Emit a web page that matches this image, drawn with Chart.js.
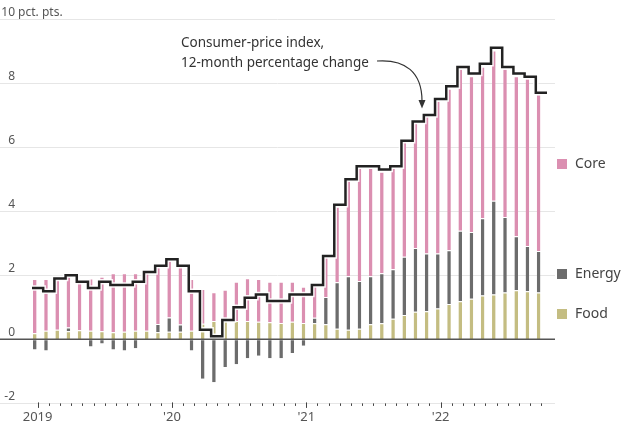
<!DOCTYPE html>
<html>
<head>
<meta charset="utf-8">
<script src="https://cdn.jsdelivr.net/npm/chart.js@4.4.1/dist/chart.umd.min.js"></script>
<style>
html, body { margin: 0; padding: 0; background: #fff; }
#wrap { width: 624px; height: 436px; position: relative; }
</style>
</head>
<body>
<div id="wrap"><canvas id="cpi"></canvas></div>
<script>
// months Jan 2019 .. Oct 2022
const months = [];
for (let y = 2019; y <= 2022; y++) {
    for (let m = 1; m <= 12; m++) {
        if (y === 2022 && m > 10) break;
        months.push(y + '-' + String(m).padStart(2, '0'));
    }
}

// contributions to 12-month CPI change, pct. pts.
const food = [0.19,0.27,0.30,0.25,0.28,0.27,0.25,0.22,0.24,0.27,0.27,0.22,
              0.24,0.24,0.27,0.49,0.57,0.59,0.57,0.57,0.55,0.53,0.51,0.55,
              0.51,0.50,0.47,0.33,0.30,0.33,0.47,0.50,0.64,0.76,0.86,0.88,
              0.96,1.10,1.19,1.27,1.37,1.40,1.46,1.53,1.50,1.46];
const energy = [-0.32,-0.35,0,0.12,0,-0.22,-0.13,-0.32,-0.35,-0.28,0,0.26,
                0.44,0.22,-0.35,-1.23,-1.34,-0.86,-0.78,-0.59,-0.51,-0.59,-0.59,-0.43,
                -0.20,0.17,0.85,1.45,1.67,1.49,1.50,1.56,1.55,1.82,1.99,1.80,
                1.72,1.68,2.20,2.08,2.41,2.93,2.36,1.69,1.41,1.30];
const core = [1.69,1.61,1.58,1.63,1.52,1.63,1.70,1.84,1.82,1.79,1.83,1.78,
              1.81,1.83,1.61,1.08,0.90,0.96,1.23,1.34,1.33,1.27,1.29,1.25,
              1.13,1.05,1.26,2.36,3.01,3.53,3.38,3.17,3.16,3.60,3.92,4.29,
              4.77,5.04,5.06,4.86,4.73,4.69,4.63,4.99,5.23,4.89];
const cpi = [1.6,1.5,1.9,2.0,1.8,1.6,1.8,1.7,1.7,1.8,2.1,2.3,
             2.5,2.3,1.5,0.3,0.1,0.6,1.0,1.3,1.4,1.2,1.2,1.4,
             1.4,1.7,2.6,4.2,5.0,5.4,5.4,5.3,5.4,6.2,6.8,7.0,
             7.5,7.9,8.5,8.3,8.6,9.1,8.5,8.3,8.2,7.7];

const yTicks = [-2, 0, 2, 4, 6, 8, 10];
const yearTicks = { 0: '2019', 12: "'20", 24: "'21", 36: "'22" };

const colores = { core: '#db8fb1', energy: '#6c6c6c', food: '#c4bd82' };
const FONT = '"Noto Sans", sans-serif';

// step line runs from the left edge of each month to the right edge of the last one
const cpiSteps = cpi.map((v, i) => ({ x: i - 0.5, y: v }));
cpiSteps.push({ x: cpi.length - 0.5, y: cpi[cpi.length - 1] });

const decor = {
    id: 'decor',
    beforeDatasetsDraw(chart) {
        const ctx = chart.ctx, ys = chart.scales.y;
        ctx.save();
        ctx.strokeStyle = '#e6e6e6';
        ctx.lineWidth = 1;
        yTicks.forEach(t => {
            if (t === 0) return;
            const py = Math.round(ys.getPixelForValue(t)) + 0.5;
            ctx.beginPath(); ctx.moveTo(0, py); ctx.lineTo(555, py); ctx.stroke();
        });
        ctx.restore();
    },
    afterDatasetsDraw(chart) {
        const ctx = chart.ctx, ys = chart.scales.y, xs = chart.scales.x;
        ctx.save();
        // zero line
        const z = ys.getPixelForValue(0);
        ctx.strokeStyle = '#555'; ctx.lineWidth = 1.5;
        ctx.beginPath(); ctx.moveTo(0, z); ctx.lineTo(555, z); ctx.stroke();

        // y labels above the gridlines
        ctx.fillStyle = '#555';
        ctx.font = '12px ' + FONT;
        ctx.textBaseline = 'alphabetic';
        yTicks.forEach(t => {
            const py = ys.getPixelForValue(t) - 3;
            ctx.textAlign = 'right';
            ctx.fillText(String(t).replace('-', '\u2011'), 15, py);
            if (t === 10) { ctx.textAlign = 'left'; ctx.fillText(' pct. pts.', 15, py); }
        });

        // month ticks on the bottom axis
        const base = ys.getPixelForValue(-2);
        ctx.strokeStyle = '#444'; ctx.lineWidth = 1;
        months.forEach((m, i) => {
            const px = Math.round(xs.getPixelForValue(i)) + 0.5;
            const major = yearTicks[i] !== undefined;
            ctx.beginPath();
            ctx.moveTo(px, base - (major ? 1 : 0));
            ctx.lineTo(px, base + (major ? 4.5 : 2.5));
            ctx.stroke();
        });

        // legend at right
        const leg = [['Core', colores.core, 164], ['Energy', colores.energy, 274], ['Food', colores.food, 314]];
        ctx.font = '14px ' + FONT;
        ctx.textAlign = 'left'; ctx.textBaseline = 'middle';
        leg.forEach(([name, c, py]) => {
            ctx.fillStyle = c; ctx.fillRect(557, py - 5, 10, 10);
            ctx.fillStyle = '#444'; ctx.fillText(name, 575, py);
        });

        // annotation
        ctx.fillStyle = '#333';
        ctx.font = '13.5px ' + FONT;
        ctx.fillText('Consumer-price index,', 181, 43);
        ctx.fillText('12-month percentage change', 181, 63);
        ctx.strokeStyle = '#333'; ctx.lineWidth = 1.2;
        ctx.beginPath();
        ctx.moveTo(377, 61);
        ctx.bezierCurveTo(405, 59, 422, 72, 422, 101);
        ctx.stroke();
        ctx.fillStyle = '#333';
        ctx.beginPath();
        ctx.moveTo(418.5, 100); ctx.lineTo(425.5, 100); ctx.lineTo(422, 108.5);
        ctx.closePath(); ctx.fill();
        ctx.restore();
    }
};

const barStyle = {
    type: 'bar',
    barPercentage: 0.64,
    categoryPercentage: 1,
    borderWidth: { top: 1, bottom: 0, left: 0, right: 0 },
    borderColor: 'rgba(255,255,255,0.85)',
    borderSkipped: false,
    order: 2
};

new Chart(document.getElementById('cpi'), {
    data: {
        labels: months,
        datasets: [
            Object.assign({ label: 'Food', data: food, backgroundColor: colores.food }, barStyle),
            Object.assign({ label: 'Energy', data: energy, backgroundColor: colores.energy }, barStyle),
            Object.assign({ label: 'Core', data: core, backgroundColor: colores.core }, barStyle),
            {
                type: 'line', label: 'halo', xAxisID: 'x2', stack: 'halo',
                data: cpiSteps, stepped: 'before',
                borderColor: 'rgba(255,255,255,0.9)', borderWidth: 5.5,
                pointRadius: 0, fill: false, order: 1
            },
            {
                type: 'line', label: 'Consumer-price index', xAxisID: 'x2', stack: 'cpi',
                data: cpiSteps, stepped: 'before',
                borderColor: '#222', borderWidth: 2.5, borderJoinStyle: 'miter',
                pointRadius: 0, fill: false, order: 0
            }
        ]
    },
    options: {
        responsive: true,
        maintainAspectRatio: false,
        animation: false,
        layout: { padding: { left: 32, right: 77, top: 19, bottom: 5 } },
        plugins: { legend: { display: false }, tooltip: { enabled: false } },
        scales: {
            x: {
                stacked: true,
                offset: true,
                grid: { display: false, drawTicks: false },
                border: { display: false },
                ticks: {
                    autoSkip: false, maxRotation: 0, padding: 6,
                    color: '#555', font: { family: FONT, size: 13 },
                    callback: (v, i) => yearTicks[i] || ''
                }
            },
            x2: { type: 'linear', min: -0.5, max: cpi.length - 0.5, display: false },
            y: { stacked: true, min: -2, max: 10, display: false }
        }
    },
    plugins: [decor]
});
</script>
</body>
</html>
